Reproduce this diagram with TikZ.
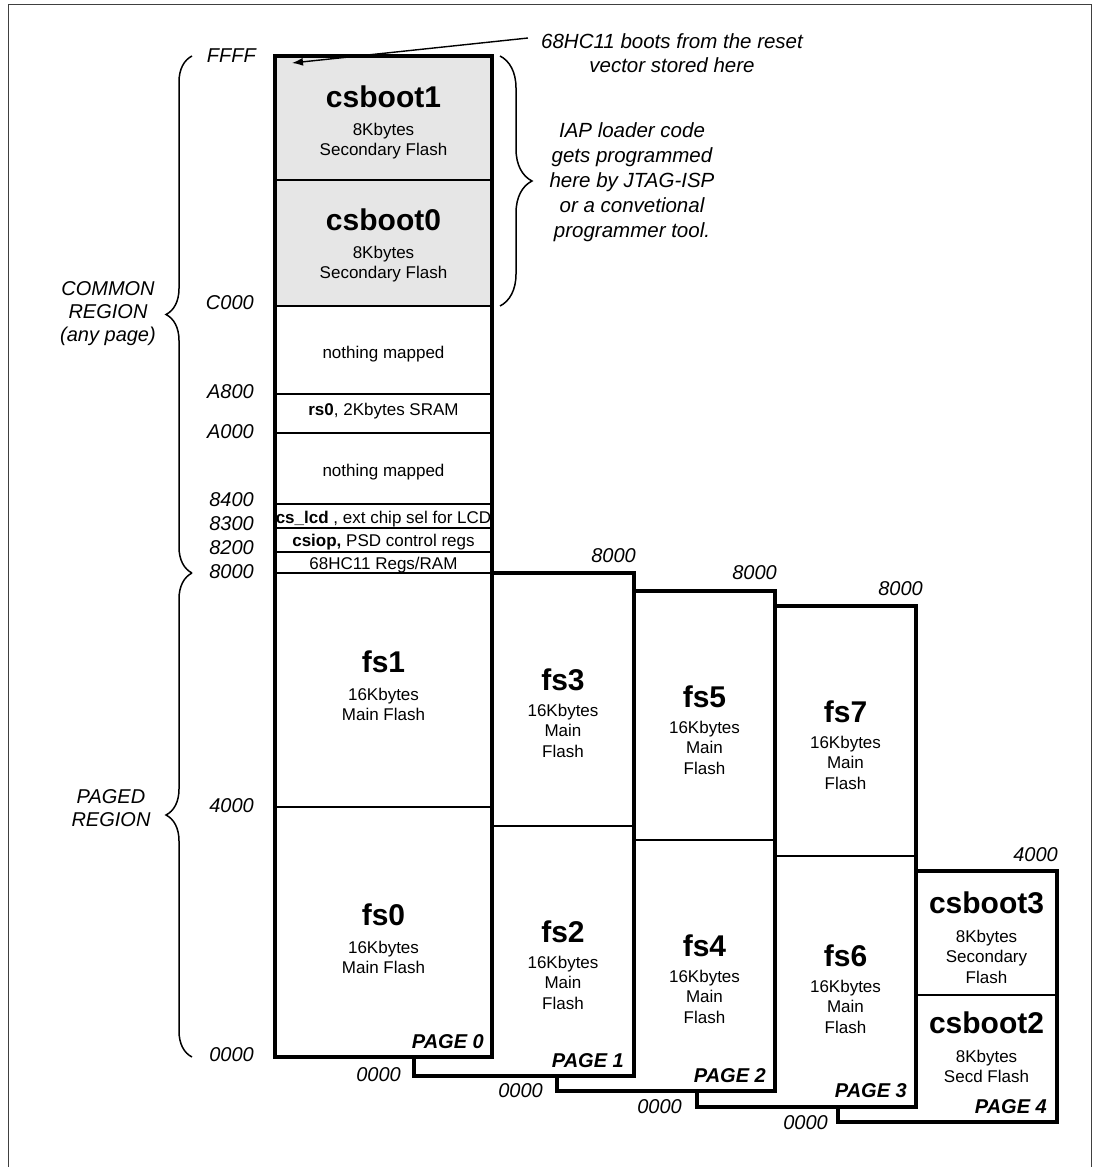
\documentclass[tikz,border=0pt]{standalone}
\usepackage{fontspec}
\setmainfont{Liberation Sans}
\usetikzlibrary{arrows.meta,positioning,decorations.pathreplacing}

\definecolor{bootgray}{RGB}{230,230,230}
\definecolor{framegray}{RGB}{64,64,64}

\tikzset{
  pagebox/.style={draw=black, line width=3.6pt, fill=white},
  divider/.style={draw=black, line width=2.2pt},
  bigname/.style={font=\fontsize{30}{34}\selectfont\bfseries, inner sep=0pt, anchor=base},
  sizeinfo/.style={font=\fontsize{17}{20.5}\selectfont, align=center, inner sep=0pt},
  rowtext/.style={font=\fontsize{17}{20}\selectfont, inner sep=0pt, anchor=base},
  addr/.style={font=\fontsize{20}{24}\selectfont\itshape, inner sep=0pt, anchor=east},
  pagetag/.style={font=\fontsize{20}{24}\selectfont\bfseries\itshape, inner sep=0pt, anchor=base east},
  remark/.style={font=\fontsize{20.5}{24.5}\selectfont\itshape, align=center, inner sep=0pt},
  regionname/.style={font=\fontsize{20}{23}\selectfont\itshape, align=center, inner sep=0pt},
  regionbrace/.style={decorate, draw=black, line width=1.5pt},
}

\begin{document}
\begin{tikzpicture}[x=1pt, y=-1pt]
    \useasboundingbox (0,0) rectangle (1101,1167);
    \draw [draw=framegray, line width=1.6pt] (8.5,1167) -- (8.5,4.5) -- (1091.5,4.5) -- (1091.5,1167);

    % page 4
    \draw [pagebox] (838,871) rectangle (1057,1122);
    \draw [divider] (838,995) -- (1057,995);
    % page 3
    \draw [pagebox] (697,606) rectangle (916,1107);
    \draw [divider] (697,856) -- (916,856);
    % page 2
    \draw [pagebox] (557,591) rectangle (775,1091);
    \draw [divider] (557,840) -- (775,840);
    % page 1
    \draw [pagebox] (414,573) rectangle (634,1076);
    \draw [divider] (414,826) -- (634,826);
    % page 0
    \fill [white] (275,56) rectangle (492,1057);
    \fill [bootgray] (275,56) rectangle (492,306);
    \foreach \y in {180,306,394,433,504,528,552,573,807}
        \draw [divider] (275,\y) -- (492,\y);
    \draw [draw=black, line width=3.6pt] (275,56) rectangle (492,1057);

    % page 0 text
    \node (csboot1)  [bigname] at (383.5,107) {csboot1};
    \node (csboot1i) [sizeinfo, below=15pt of csboot1] {8Kbytes\\Secondary Flash};
    \node (csboot0)  [bigname] at (383.5,230) {csboot0};
    \node (csboot0i) [sizeinfo, below=15pt of csboot0] {8Kbytes\\Secondary Flash};
    \node (nomap1) [rowtext] at (383.5,358) {nothing mapped};
    \node (rs0)    [rowtext] at (383.5,415) {\textbf{rs0}, 2Kbytes SRAM};
    \node (nomap2) [rowtext] at (383.5,476) {nothing mapped};
    \node (cslcd)  [rowtext] at (383.5,523) {\textbf{cs\_lcd} , ext chip sel for LCD};
    \node (csiop)  [rowtext] at (383.5,546) {\textbf{csiop,} PSD control regs};
    \node (hcregs) [rowtext] at (383.5,569) {68HC11 Regs/RAM};
    \node (fs1)  [bigname] at (383.5,672) {fs1};
    \node (fs1i) [sizeinfo, below=15pt of fs1] {16Kbytes\\Main Flash};
    \node (fs0)  [bigname] at (383.5,925) {fs0};
    \node (fs0i) [sizeinfo, below=15pt of fs0] {16Kbytes\\Main Flash};
    \node (page0) [pagetag] at (484,1048) {PAGE 0};

    % page 1 text
    \node (fs3)  [bigname] at (563,690) {fs3};
    \node (fs3i) [sizeinfo, below=13pt of fs3] {16Kbytes\\Main\\Flash};
    \node (fs2)  [bigname] at (563,942) {fs2};
    \node (fs2i) [sizeinfo, below=13pt of fs2] {16Kbytes\\Main\\Flash};
    \node (page1) [pagetag] at (624,1067) {PAGE 1};

    % page 2 text
    \node (fs5)  [bigname] at (704.5,707) {fs5};
    \node (fs5i) [sizeinfo, below=13pt of fs5] {16Kbytes\\Main\\Flash};
    \node (fs4)  [bigname] at (704.5,956) {fs4};
    \node (fs4i) [sizeinfo, below=13pt of fs4] {16Kbytes\\Main\\Flash};
    \node (page2) [pagetag] at (766,1082) {PAGE 2};

    % page 3 text
    \node (fs7)  [bigname] at (845.5,722) {fs7};
    \node (fs7i) [sizeinfo, below=13pt of fs7] {16Kbytes\\Main\\Flash};
    \node (fs6)  [bigname] at (845.5,966) {fs6};
    \node (fs6i) [sizeinfo, below=13pt of fs6] {16Kbytes\\Main\\Flash};
    \node (page3) [pagetag] at (907,1097) {PAGE 3};

    % page 4 text
    \node (csboot3)  [bigname] at (986.5,913) {csboot3};
    \node (csboot3i) [sizeinfo, below=16pt of csboot3] {8Kbytes\\Secondary\\Flash};
    \node (csboot2)  [bigname] at (986.5,1033) {csboot2};
    \node (csboot2i) [sizeinfo, below=16pt of csboot2] {8Kbytes\\Secd Flash};
    \node (page4) [pagetag] at (1047,1113) {PAGE 4};

    % addresses
    \node (aFFFF) [addr] at (256,56)  {FFFF};
    \node (aC000) [addr] at (254,303) {C000};
    \node (aA800) [addr] at (254,392) {A800};
    \node (aA000) [addr] at (254,432) {A000};
    \node (a8400) [addr] at (254,500) {8400};
    \node (a8300) [addr] at (254,524) {8300};
    \node (a8200) [addr] at (254,548) {8200};
    \node (a8000) [addr] at (254,572) {8000};
    \node (a4000) [addr] at (254,806) {4000};
    \node (a0000) [addr] at (254,1055) {0000};
    \node (top1) [addr] at (636,556)  {8000};
    \node (top2) [addr] at (777,573)  {8000};
    \node (top3) [addr] at (923,589)  {8000};
    \node (top4) [addr] at (1058,855) {4000};
    \node (bot1) [addr] at (401,1075) {0000};
    \node (bot2) [addr] at (543,1091) {0000};
    \node (bot3) [addr] at (682,1107) {0000};
    \node (bot4) [addr] at (828,1123) {0000};

    % regions
    \node (common) [regionname] at (108,314) {COMMON\\REGION\\(any page)};
    \node (paged)  [regionname] at (111,808) {PAGED\\REGION};
    \draw [regionbrace, decoration={brace, amplitude=26pt}] (192,573) -- (192,56);
    \draw [regionbrace, decoration={brace, amplitude=26pt}] (192,1057) -- (192,573);
    \draw [regionbrace, decoration={brace, amplitude=32pt}] (500,56) -- (500,306);

    % notes
    \node (bootnote) [remark] at (672,53) {68HC11 boots from the reset\\vector stored here};
    \node (iapnote)  [remark, font=\fontsize{20.5}{25}\selectfont\itshape] at (632,182)
        {IAP loader code\\gets programmed\\here by JTAG-ISP\\or a convetional\\programmer tool.};
    \coordinate (resetvec) at (292,63);
    \draw [-{Latex[length=11pt, width=8pt]}][draw=black, line width=1.4pt] ([xshift=-13pt, yshift=-5pt]bootnote.north west) to (resetvec);
\end{tikzpicture}
\end{document}
